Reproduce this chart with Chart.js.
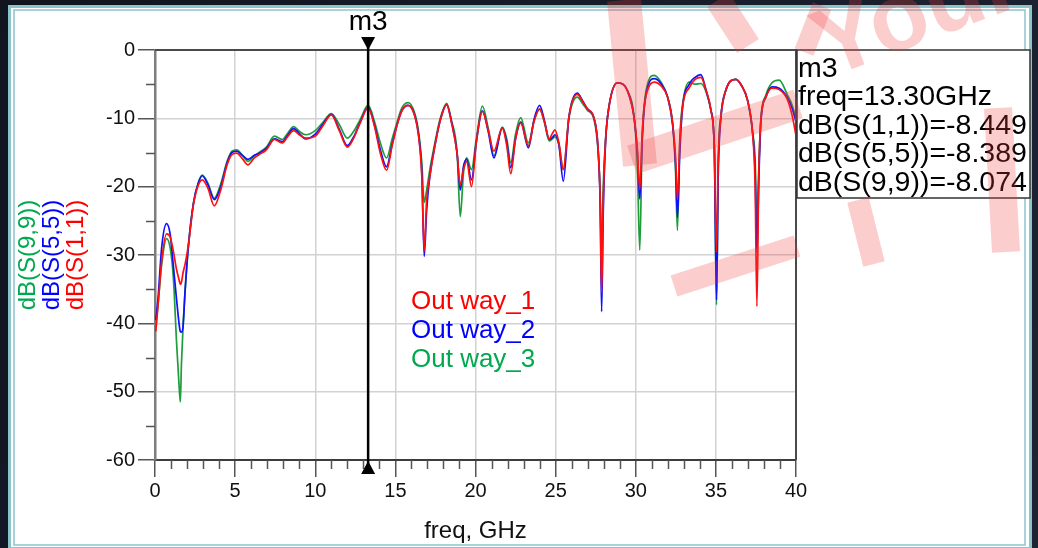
<!DOCTYPE html>
<html>
<head>
<meta charset="utf-8">
<title>dB(S) return loss, three output ways</title>
<script src="https://cdn.jsdelivr.net/npm/chart.js@4.4.1/dist/chart.umd.min.js"></script>
<style>
  html, body { margin: 0; padding: 0; background: #141a26; }
  #wrap { width: 1038px; height: 548px; }
</style>
</head>
<body>
<div id="wrap"><canvas id="sparamChart" width="1038" height="548"></canvas></div>
<script>
// sweep points, GHz
const freqGHz = [
  0.05, 0.2, 0.42, 0.72, 0.95, 1.15, 1.35, 1.5, 1.58, 1.65, 1.75, 1.88, 2.08, 2.4, 2.7, 2.95,
  3.3, 3.7, 4.1, 4.5, 4.8, 5.1, 5.45, 5.8, 6.2, 6.5, 6.95, 7.45, 7.95, 8.3, 8.65, 9.0, 9.4,
  10.0, 10.5, 11.0, 11.5, 12.0, 12.4, 12.8, 13.3, 13.7, 14.05, 14.45, 14.8, 15.1, 15.4, 15.8,
  16.2, 16.45, 16.65, 16.8, 16.95, 17.15, 17.5, 17.8, 18.2, 18.5, 18.85, 19.05, 19.25, 19.45,
  19.75, 20.05, 20.43, 20.8, 21.15, 21.67, 21.95, 22.2, 22.5, 22.82, 23.3, 23.65, 24.0, 24.3,
  24.6, 24.8, 24.95, 25.2, 25.48, 25.83, 26.35, 26.7, 26.98, 27.4, 27.64, 27.78, 27.87, 27.97,
  28.12, 28.33, 28.85, 29.2, 29.47, 29.89, 30.1, 30.25, 30.4, 30.53, 30.8, 31.15, 31.6, 31.99,
  32.3, 32.48, 32.6, 32.75, 32.92, 33.34, 33.7, 34.06, 34.4, 34.69, 34.9, 35.04, 35.15, 35.31,
  35.62, 36.25, 36.6, 36.97, 37.29, 37.45, 37.56, 37.68, 37.81, 38.12, 38.5, 38.95, 39.47,
  39.75, 40.0
];

// dB(S(1,1)) - Out way_1
const s11 = [
  -41.2, -37.0, -30.8, -26.9, -27.4, -29.5, -32.2, -33.6, -34.3, -34.0, -32.6, -31.3, -28.6, -22.6, -19.8, -19.0,
  -20.2, -22.8, -20.5, -16.8, -15.3, -15.1, -15.9, -16.8, -15.8, -15.3, -14.6, -13.1, -13.6, -12.6, -11.8, -12.4, -12.9,
  -12.6, -11.0, -9.5, -11.8, -14.2, -12.9, -10.7, -8.449, -11.2, -15.0, -17.6, -14.0, -11.0, -8.9, -8.1,
  -9.6, -12.6, -18.5, -29.4, -22.0, -18.5, -13.6, -10.3, -8.0, -10.6, -15.1, -19.8, -17.5, -16.3,
  -20.0, -13.5, -9.0, -11.8, -14.8, -11.4, -14.0, -18.1, -13.0, -10.7, -14.0, -10.5, -8.6, -10.5,
  -13.0, -12.2, -11.7, -13.5, -17.5, -9.8, -6.5, -7.6, -8.6, -10.0, -14.1, -22.0, -35.5, -22.0,
  -13.1, -8.3, -4.8, -5.0, -5.9, -9.8, -14.5, -20.4, -12.5, -8.3, -5.5, -4.7, -5.3, -6.9,
  -10.7, -15.5, -21.8, -13.5, -8.3, -5.5, -4.3, -4.0, -6.0, -8.8, -14.1, -29.6, -16.0, -9.8,
  -5.9, -4.3, -5.2, -7.3, -12.2, -20.0, -37.5, -18.0, -10.2, -6.9, -5.6, -5.8, -7.3,
  -9.5, -12.5
];

// dB(S(5,5)) - Out way_2
const s55 = [
  -39.5, -36.0, -28.8, -25.4, -27.0, -31.7, -36.6, -40.0, -41.2, -41.3, -40.5, -35.1, -28.8, -22.4, -19.5, -18.4,
  -19.7, -21.9, -20.0, -16.5, -15.0, -14.8, -15.4, -16.0, -15.4, -15.1, -14.4, -13.0, -13.4, -12.4, -11.5, -12.2, -13.0,
  -12.3, -10.8, -9.4, -11.6, -14.0, -12.7, -10.6, -8.389, -11.0, -14.5, -17.1, -13.8, -11.0, -8.9, -8.1,
  -9.5, -12.5, -18.0, -30.2, -23.5, -18.5, -13.6, -10.3, -8.0, -10.5, -15.1, -20.5, -17.0, -16.0,
  -19.0, -13.5, -8.9, -12.0, -15.8, -11.4, -13.5, -17.2, -13.0, -10.5, -14.3, -10.2, -8.1, -10.3,
  -13.1, -12.8, -12.4, -13.8, -19.2, -9.8, -6.3, -7.5, -8.6, -10.0, -14.1, -22.5, -38.3, -24.0,
  -13.3, -8.3, -4.8, -5.0, -5.9, -9.8, -15.0, -21.8, -13.5, -8.5, -5.0, -4.2, -5.0, -6.9,
  -10.9, -16.5, -24.5, -15.0, -8.5, -5.0, -4.0, -3.6, -6.0, -8.8, -14.1, -36.6, -18.0, -10.0,
  -5.9, -4.3, -5.2, -7.3, -12.0, -18.0, -29.6, -19.0, -10.5, -6.9, -5.4, -5.6, -7.0,
  -8.5, -10.5
];

// dB(S(9,9)) - Out way_3
const s99 = [
  -40.5, -37.0, -31.3, -27.6, -29.0, -33.5, -43.0, -49.0, -51.5, -46.0, -40.5, -35.3, -28.8, -22.4, -19.4, -18.3,
  -19.5, -21.7, -19.6, -16.3, -14.8, -14.6, -15.4, -16.3, -15.5, -15.0, -14.2, -12.6, -13.1, -12.1, -11.2, -11.9, -12.4,
  -11.8, -10.5, -9.3, -10.9, -12.9, -11.9, -10.2, -8.074, -10.5, -13.5, -15.8, -13.0, -10.6, -8.5, -7.7,
  -9.2, -12.0, -16.5, -22.3, -20.5, -17.5, -13.2, -10.0, -7.8, -10.3, -15.0, -24.4, -18.0, -15.8,
  -17.5, -13.0, -8.2, -11.5, -15.5, -11.3, -13.0, -16.5, -12.3, -9.9, -13.6, -10.4, -8.7, -10.6,
  -13.3, -13.0, -12.7, -13.8, -17.5, -10.0, -6.9, -7.9, -8.8, -10.2, -14.5, -21.0, -31.0, -20.0,
  -13.0, -8.2, -4.8, -5.0, -5.9, -9.6, -17.0, -29.3, -13.0, -8.0, -4.5, -3.7, -4.8, -6.9,
  -10.7, -17.5, -26.4, -13.0, -8.0, -4.7, -5.0, -4.9, -6.2, -8.8, -14.1, -37.3, -16.0, -9.8,
  -5.9, -4.3, -5.2, -7.3, -12.0, -16.0, -25.7, -17.0, -10.0, -6.6, -4.8, -4.4, -6.6,
  -8.0, -10.0
];

const traceNames = ["Out way_1", "Out way_2", "Out way_3"];
const axisNames = ["dB(S(1,1))", "dB(S(5,5))", "dB(S(9,9))"];
const traceColors = ["#ff1010", "#1010ff", "#1e9e3a"];
const textColors = ["#ff0000", "#0000ff", "#00a84f"];

// marker m3
const markerName = "m3";
const markerFreq = 13.3;
const markerValues = [-8.449, -8.389, -8.074];

const xMin = 0, xMax = 40, xStep = 5;
const yMin = -60, yMax = 0, yStep = 10;

const FONT = "'Liberation Sans', Arial, sans-serif";

function toPoints(ys) {
  return freqGHz.map((f, i) => ({ x: f, y: ys[i] }));
}

// window frame behind the plot
const framePlugin = {
  id: "frame",
  beforeDraw(chart) {
    const ctx = chart.ctx;
    const w = chart.width, h = chart.height;
    ctx.save();
    const g = ctx.createLinearGradient(0, 0, w, h);
    g.addColorStop(0, "#10151f");
    g.addColorStop(1, "#1d2434");
    ctx.fillStyle = g;
    ctx.fillRect(0, 0, w, h);
    ctx.fillStyle = "#ffffff";
    ctx.fillRect(8, 5, w - 14, h - 5);
    ctx.strokeStyle = "#8cc4cc";
    ctx.lineWidth = 3;
    ctx.strokeRect(9.5, 6.5, w - 17, h - 6);
    ctx.lineWidth = 1.5;
    ctx.strokeRect(14, 10, w - 27, h - 13);
    ctx.restore();
  }
};

// pink stamp laid over the upper right corner
function drawStamp(ctx) {
  ctx.save();
  ctx.globalAlpha = 0.26;
  ctx.strokeStyle = "#f03c3c";
  ctx.fillStyle = "#f03c3c";
  ctx.lineCap = "butt";
  const strokes = [
    [624, 0, 640, 165, 34],
    [632, 160, 798, 104, 30],
    [718, 0, 748, 46, 26],
    [804, 52, 822, 6, 20],
    [998, 108, 1006, 252, 28],
    [674, 286, 797, 246, 22],
    [858, 200, 874, 264, 22],
  ];
  strokes.forEach(([x1, y1, x2, y2, w]) => {
    ctx.lineWidth = w;
    ctx.beginPath();
    ctx.moveTo(x1, y1);
    ctx.lineTo(x2, y2);
    ctx.stroke();
  });
  ctx.translate(828, 78);
  ctx.rotate(-0.36);
  ctx.font = "bold 96px " + FONT;
  ctx.textAlign = "left";
  ctx.textBaseline = "alphabetic";
  ctx.fillText("Your", 0, 0);
  ctx.restore();
}

// minor ticks, plot border, marker, labels
const decorPlugin = {
  id: "decor",
  afterDraw(chart) {
    const ctx = chart.ctx;
    const xs = chart.scales.x, ys = chart.scales.y;
    const area = chart.chartArea;
    ctx.save();

    // minor ticks
    ctx.strokeStyle = "#555";
    ctx.lineWidth = 1.5;
    ctx.beginPath();
    for (let f = xMin + 1; f < xMax; f++) {
      if (f % xStep === 0) continue;
      const px = Math.round(xs.getPixelForValue(f)) + 0.5;
      ctx.moveTo(px, area.bottom);
      ctx.lineTo(px, area.bottom + 9);
    }
    for (let v = yMin + yStep / 2; v < yMax; v += yStep) {
      const py = Math.round(ys.getPixelForValue(v)) + 0.5;
      ctx.moveTo(area.left - 9, py);
      ctx.lineTo(area.left, py);
    }
    ctx.stroke();

    // top and right border of the plot
    ctx.strokeStyle = "#4a4a4a";
    ctx.lineWidth = 2;
    ctx.beginPath();
    ctx.moveTo(area.left, area.top);
    ctx.lineTo(area.right, area.top);
    ctx.lineTo(area.right, area.bottom);
    ctx.stroke();

    // marker line with its two triangles
    const mx = xs.getPixelForValue(markerFreq);
    ctx.strokeStyle = "#000";
    ctx.fillStyle = "#000";
    ctx.lineWidth = 2.5;
    ctx.beginPath();
    ctx.moveTo(mx, area.top - 12);
    ctx.lineTo(mx, area.bottom + 12);
    ctx.stroke();
    ctx.beginPath();
    ctx.moveTo(mx - 7, area.top - 13);
    ctx.lineTo(mx + 7, area.top - 13);
    ctx.lineTo(mx, area.top);
    ctx.closePath();
    ctx.fill();
    ctx.beginPath();
    ctx.moveTo(mx, area.bottom + 1);
    ctx.lineTo(mx - 7, area.bottom + 14);
    ctx.lineTo(mx + 7, area.bottom + 14);
    ctx.closePath();
    ctx.fill();
    ctx.font = "28px " + FONT;
    ctx.textAlign = "center";
    ctx.textBaseline = "middle";
    ctx.fillText(markerName, mx, area.top - 28);

    // marker readout box
    const bx = area.right + 1, by = area.top, bw = 233, bh = 148;
    ctx.fillStyle = "#fff";
    ctx.fillRect(bx, by, bw, bh);
    ctx.strokeStyle = "#333";
    ctx.lineWidth = 1.5;
    ctx.strokeRect(bx, by, bw, bh);
    const readout = [
      markerName,
      "freq=" + markerFreq.toFixed(2) + "GHz",
      ...axisNames.map((n, i) => n + "=" + markerValues[i].toFixed(3))
    ];
    ctx.fillStyle = "#000";
    ctx.font = "28.5px " + FONT;
    ctx.textAlign = "left";
    readout.forEach((t, i) => ctx.fillText(t, bx + 1, by + 19 + i * 28.5));

    // trace names inside the plot
    ctx.font = "26px " + FONT;
    traceNames.forEach((t, i) => {
      ctx.fillStyle = textColors[i];
      ctx.fillText(t, 411, 302 + i * 29);
    });

    // stacked y axis titles, read bottom to top
    ctx.font = "24px " + FONT;
    ctx.textAlign = "center";
    const midY = (area.top + area.bottom) / 2;
    [2, 1, 0].forEach((k, col) => {
      ctx.save();
      ctx.translate(28 + col * 24, midY);
      ctx.rotate(-Math.PI / 2);
      ctx.fillStyle = textColors[k];
      ctx.fillText(axisNames[k], 0, 0);
      ctx.restore();
    });

    ctx.restore();
    drawStamp(ctx);
  }
};

new Chart(document.getElementById("sparamChart"), {
  type: "line",
  data: {
    datasets: [
      { label: axisNames[0], data: toPoints(s11), borderColor: traceColors[0] },
      { label: axisNames[1], data: toPoints(s55), borderColor: traceColors[1] },
      { label: axisNames[2], data: toPoints(s99), borderColor: traceColors[2] },
    ],
  },
  options: {
    responsive: false,
    animation: false,
    devicePixelRatio: 1,
    layout: { padding: { top: 50, right: 242, left: 0, bottom: 0 } },
    elements: {
      line: { borderWidth: 1.7, cubicInterpolationMode: "monotone", fill: false },
      point: { radius: 0, hoverRadius: 0 },
    },
    plugins: {
      legend: { display: false },
      tooltip: { enabled: false },
    },
    scales: {
      x: {
        type: "linear",
        min: xMin,
        max: xMax,
        afterFit: (scale) => { scale.height = 88; },
        ticks: {
          stepSize: xStep,
          color: "#111",
          font: { family: FONT, size: 20 },
          padding: 2,
          maxRotation: 0,
        },
        grid: { color: "#d2d2d2", lineWidth: 1.5, tickLength: 17, tickColor: "#555", tickWidth: 1.5 },
        border: { color: "#3c3c3c", width: 2 },
        title: {
          display: true,
          text: "freq, GHz",
          color: "#111",
          font: { family: FONT, size: 24 },
          padding: { top: 0, bottom: 2 },
        },
      },
      y: {
        min: yMin,
        max: yMax,
        afterFit: (scale) => { scale.width = 155; },
        ticks: {
          stepSize: yStep,
          color: "#111",
          font: { family: FONT, size: 20 },
          padding: 3,
        },
        grid: { color: "#d2d2d2", lineWidth: 1.5, tickLength: 17, tickColor: "#555", tickWidth: 1.5 },
        border: { color: "#7d7d7d", width: 2.5 },
      },
    },
  },
  plugins: [framePlugin, decorPlugin],
});
</script>
</body>
</html>
